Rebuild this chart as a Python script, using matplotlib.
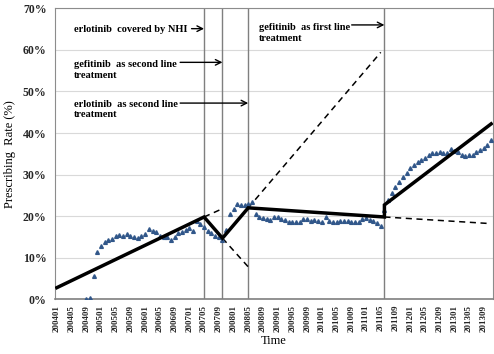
import numpy as np
import matplotlib
matplotlib.use("Agg")
import matplotlib.pyplot as plt

plt.rcParams['font.family'] = ['Liberation Serif', 'DejaVu Serif']
plt.rcParams['font.weight'] = 'bold'

# monthly categories, 200401 .. 201311
months = [f"{y}{m:02d}" for y in range(2004, 2014) for m in range(1, 13)][:119]

# observed prescribing rate (%) per month, no data before 200409
rate = [np.nan] * 8 + [
    0.0, 0.3, 5.6, 11.4,
    12.8, 13.7, 14.2, 14.6, 15.3, 15.5, 15.2, 15.6, 15.2, 15.1, 14.8, 15.2,
    15.8, 16.9, 16.5, 16.1, 15.3, 15.1, 15.0, 14.2, 15.0, 16.0, 16.3, 16.6,
    17.2, 16.4, 18.9, 18.0, 17.3, 16.4, 15.9, 15.3, 14.9, 14.3, 16.6, 20.5,
    21.8, 23.0, 22.8, 22.8, 22.9, 23.3, 20.4, 19.9, 19.5, 19.2, 19.1, 19.9,
    19.7, 19.3, 19.0, 18.7, 18.5, 18.5, 18.6, 19.3, 19.2, 18.9, 19.1, 18.9,
    18.7, 19.9, 18.8, 18.7, 18.7, 18.8, 18.9, 18.8, 18.5, 18.5, 18.7, 19.4,
    19.6, 19.0, 18.9, 18.3, 17.7,
    21.5, 23.8, 25.5, 27.0, 28.2, 29.3, 30.5, 31.5, 32.3, 33.0, 33.6, 34.0,
    34.8, 35.2, 35.3, 35.4, 35.3, 35.1, 36.1, 35.6, 35.4, 34.8, 34.4, 34.6,
    34.7, 35.4, 36.0, 36.5, 37.0, 38.3,
]

# segmented regression fit
trend_months = ["200401", "200705", "200710", "200805", "201106", "201106", "201311"]
trend_vals = [2.8, 19.8, 14.7, 22.0, 19.8, 22.7, 42.2]

# projected trends had the previous segment continued
proj_start_months = ["200705", "200710", "200805", "201106"]
proj_start_vals = [19.8, 14.7, 22.0, 19.8]
proj_end_months = ["200710", "200805", "201105", "201311"]
proj_end_vals = [21.8, 7.8, 59.4, 18.2]

# policy changes
event_months = ["200705", "200710", "200805", "201106"]

pos = {m: i for i, m in enumerate(months)}
x = np.arange(len(months))

fig = plt.figure(figsize=(4.94, 3.54), dpi=100)
ax = fig.add_axes([55 / 494, 1 - 299.3 / 354, 438 / 494, 291 / 354])

ax.set_xlim(-0.5, len(months) - 0.5)
ax.set_ylim(0, 70)
ax.set_yticks(range(0, 71, 10))
ax.set_yticklabels([f"{v}%" for v in range(0, 71, 10)], fontsize=8.5, color='#262626')
ax.set_xticks(x[::4])
ax.set_xticklabels(months[::4], rotation=90, fontsize=6.5, color='#262626')
ax.tick_params(axis='y', length=0, pad=6)
ax.tick_params(axis='x', length=0, pad=4)
ax.grid(axis='y', color='#d9d9d9', lw=0.8)
ax.set_axisbelow(True)
for side in ['top', 'left', 'right']:
    ax.spines[side].set_color('#8c8c8c')
    ax.spines[side].set_linewidth(0.8)
ax.spines['bottom'].set_color('#7f7f7f')
ax.spines['bottom'].set_linewidth(1.2)

for m in event_months:
    ax.axvline(pos[m], color='#7f7f7f', lw=1.0, zorder=1)

ax.plot(x, rate, ls='none', marker='^', ms=2.7, color='#31578a', zorder=3)

for m0, v0, m1, v1 in zip(proj_start_months, proj_start_vals, proj_end_months, proj_end_vals):
    ax.plot([pos[m0], pos[m1]], [v0, v1], color='black', lw=1.1,
            ls=(0, (4, 3)), zorder=2)

ax.plot([pos[m] for m in trend_months], trend_vals, color='black', lw=2.5,
        solid_joinstyle='miter', zorder=4)

# event labels with arrows pointing at the matching line
arrow = dict(arrowstyle='->', lw=1.0, color='black', shrinkA=0, shrinkB=0)
ax.text(4.7, 65.0, "erlotinib  covered by NHI", fontsize=7.5, va='center')
ax.annotate('', xy=(pos["200705"], 65.1), xytext=(36.6, 65.1), arrowprops=arrow)

ax.text(4.7, 55.2, "gefitinib  as second line\ntreatment", fontsize=7.5,
        va='center', linespacing=1.2)
ax.annotate('', xy=(pos["200710"], 57.0), xytext=(33.5, 57.0), arrowprops=arrow)

ax.text(4.7, 45.6, "erlotinib  as second line\ntreatment", fontsize=7.5,
        va='center', linespacing=1.2)
ax.annotate('', xy=(pos["200805"], 47.2), xytext=(33.5, 47.2), arrowprops=arrow)

ax.text(54.8, 64.1, "gefitinib  as first line\ntreatment", fontsize=7.5,
        va='center', linespacing=1.2)
ax.annotate('', xy=(pos["201106"], 66.0), xytext=(80.1, 66.0), arrowprops=arrow)

ax.set_ylabel("Prescribing  Rate (%)", fontsize=9, labelpad=5)
ax.set_xlabel("Time", fontsize=9, labelpad=2)

fig.savefig("out.png", dpi=100)
